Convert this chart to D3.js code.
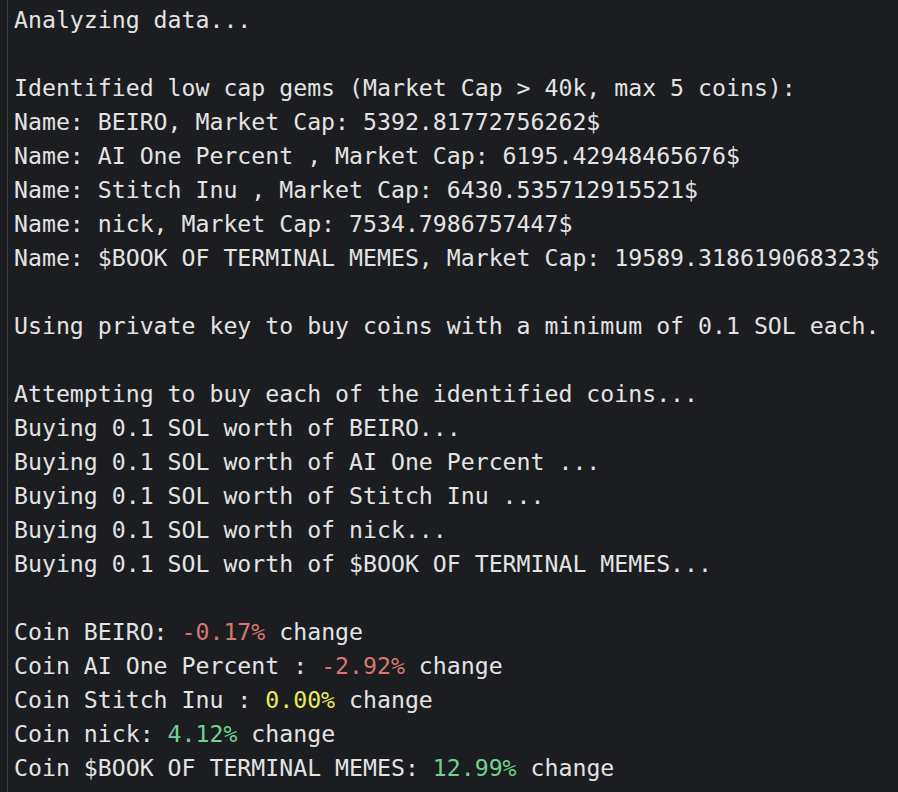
<!DOCTYPE html>
<html><head><meta charset="utf-8">
<script src="https://cdn.jsdelivr.net/npm/d3@7"></script>
<style>
  html, body { margin: 0; padding: 0; background: #1b1d21; overflow: hidden; }
</style></head>
<body>
<svg id="term" width="898" height="792"></svg>
<script>
// coins and their values
const coins = ["BEIRO", "AI One Percent ", "Stitch Inu ", "nick", "$BOOK OF TERMINAL MEMES"];
const marketCaps = ["5392.81772756262", "6195.42948465676", "6430.535712915521", "7534.7986757447", "19589.318619068323"];
const changes = [-0.17, -2.92, 0.00, 4.12, 12.99];

// build terminal lines as arrays of [text, colour] segments
const fg = "#e3e3e3";
const lines = [];
lines.push([["Analyzing data...", fg]]);
lines.push([]);
lines.push([["Identified low cap gems (Market Cap > 40k, max 5 coins):", fg]]);
coins.forEach((c, i) => lines.push([[`Name: ${c}, Market Cap: ${marketCaps[i]}$`, fg]]));
lines.push([]);
lines.push([["Using private key to buy coins with a minimum of 0.1 SOL each.", fg]]);
lines.push([]);
lines.push([["Attempting to buy each of the identified coins...", fg]]);
coins.forEach(c => lines.push([[`Buying 0.1 SOL worth of ${c}...`, fg]]));
lines.push([]);
const changeColor = v => v < 0 ? "#d9776f" : (v > 0 ? "#6fd38d" : "#ecec54");
coins.forEach((c, i) => lines.push([
  [`Coin ${c}: `, fg],
  [`${changes[i].toFixed(2)}%`, changeColor(changes[i])],
  [" change", fg]
]));

const svg = d3.select("#term");
const charW = 14, lineH = 34;
const y = d3.scaleLinear().domain([0, 1]).range([28, 28 + lineH]);

// left pane border
svg.append("line").attr("x1", 7.5).attr("x2", 7.5).attr("y1", 0).attr("y2", 792)
  .attr("stroke", "#3a3d42").attr("stroke-width", 1);

const g = svg.append("g").attr("font-family", "'DejaVu Sans Mono', monospace")
  .attr("font-size", 23.2);

lines.forEach((segs, i) => {
  const t = g.append("text").attr("x", 14).attr("y", y(i)).attr("xml:space", "preserve")
    .style("white-space", "pre");
  segs.forEach(([txt, col]) => t.append("tspan").attr("fill", col).text(txt));
});
</script>
</body></html>
